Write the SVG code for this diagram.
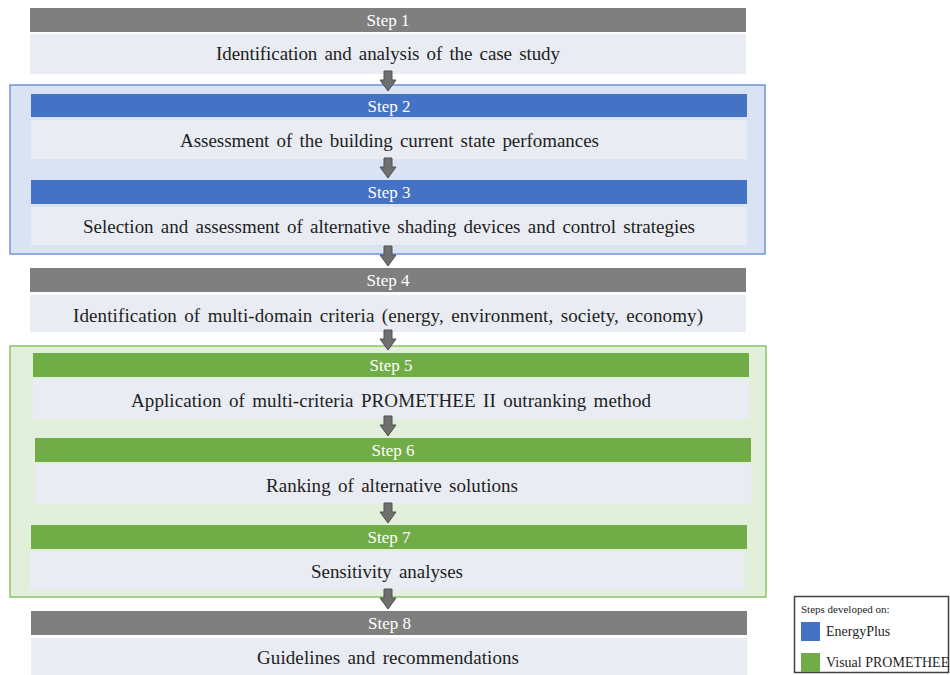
<svg xmlns="http://www.w3.org/2000/svg" width="950" height="675" viewBox="0 0 950 675">
  <style>
    .bar-grey { fill: #7f7f7f; }
    .bar-blue { fill: #4472c4; }
    .bar-green { fill: #70ad47; }
    .box { fill: #e9ecf2; }
    text { font-family: 'Liberation Serif', 'Times New Roman', serif; }
    .step { font-size: 17px; fill: #ffffff; text-anchor: middle; }
    .desc { font-size: 19px; fill: #1e1e1e; text-anchor: middle; word-spacing: 2.5px; }
    .legend { font-size: 14px; fill: #1e1e1e; }
    .legend-title { font-size: 11px; fill: #1e1e1e; }
    .arrow { fill: #6f6f6f; stroke: #505050; stroke-width: 1; }
  </style>
  <defs>
    <!-- block down-arrow, tip at (0,0) -->
    <path id="down" d="M-4,-20 L4,-20 L4,-11 L8,-11 L0,0 L-8,-11 L-4,-11 Z"/>
  </defs>

  <rect width="950" height="675" fill="#ffffff"/>

  <!-- tool groupings -->
  <g id="frame-energyplus">
    <rect x="10" y="85" width="755" height="169" fill="#dae3f3" stroke="#6f95d8" stroke-width="1.5"/>
  </g>
  <g id="frame-promethee">
    <rect x="10" y="346" width="756" height="251" fill="#e2efda" stroke="#8dc46b" stroke-width="1.5"/>
  </g>

  <g id="step1">
    <rect class="bar-grey" x="30" y="8" width="716" height="24"/>
    <text class="step" x="388" y="26">Step 1</text>
    <rect class="box" x="30" y="34" width="716" height="40"/>
    <text class="desc" x="388" y="60" textLength="344" lengthAdjust="spacing">Identification and analysis of the case study</text>
  </g>
  <g id="step2">
    <rect class="bar-blue" x="31" y="94" width="716" height="23"/>
    <text class="step" x="389" y="112">Step 2</text>
    <rect class="box" x="31" y="120" width="716" height="39"/>
    <text class="desc" x="389.5" y="147" textLength="419" lengthAdjust="spacing">Assessment of the building current state perfomances</text>
  </g>
  <g id="step3">
    <rect class="bar-blue" x="31" y="180" width="716" height="24"/>
    <text class="step" x="389" y="198">Step 3</text>
    <rect class="box" x="31" y="207" width="716" height="38"/>
    <text class="desc" x="389" y="233" textLength="612" lengthAdjust="spacing">Selection and assessment of alternative shading devices and control strategies</text>
  </g>
  <g id="step4">
    <rect class="bar-grey" x="30" y="268" width="716" height="24"/>
    <text class="step" x="388" y="286">Step 4</text>
    <rect class="box" x="30" y="295" width="716" height="37"/>
    <text class="desc" x="388" y="322" textLength="630" lengthAdjust="spacing">Identification of multi-domain criteria (energy, environment, society, economy)</text>
  </g>
  <g id="step5">
    <rect class="bar-green" x="33" y="353" width="716" height="24"/>
    <text class="step" x="391" y="371">Step 5</text>
    <rect class="box" x="33" y="379" width="716" height="40"/>
    <text class="desc" x="391" y="407" textLength="520" lengthAdjust="spacing">Application of multi-criteria PROMETHEE II outranking method</text>
  </g>
  <g id="step6">
    <rect class="bar-green" x="35" y="438" width="716" height="24"/>
    <text class="step" x="393" y="456">Step 6</text>
    <rect class="box" x="35" y="464" width="716" height="40"/>
    <text class="desc" x="392" y="492" textLength="252" lengthAdjust="spacing">Ranking of alternative solutions</text>
  </g>
  <g id="step7">
    <rect class="bar-green" x="31" y="525" width="716" height="24"/>
    <text class="step" x="389" y="543">Step 7</text>
    <rect class="box" x="30" y="551" width="715" height="39"/>
    <text class="desc" x="387" y="578" textLength="152" lengthAdjust="spacing">Sensitivity analyses</text>
  </g>
  <g id="step8">
    <rect class="bar-grey" x="31" y="611" width="716" height="24"/>
    <text class="step" x="389.5" y="629">Step 8</text>
    <rect class="box" x="31" y="638" width="716" height="37"/>
    <text class="desc" x="388" y="664" textLength="262" lengthAdjust="spacing">Guidelines and recommendations</text>
  </g>

  <g id="connectors">
    <use href="#down" class="arrow" transform="translate(388,91)"/>
    <use href="#down" class="arrow" transform="translate(388,178)"/>
    <use href="#down" class="arrow" transform="translate(388,266)"/>
    <use href="#down" class="arrow" transform="translate(388,350)"/>
    <use href="#down" class="arrow" transform="translate(388,436)"/>
    <use href="#down" class="arrow" transform="translate(388,523)"/>
    <use href="#down" class="arrow" transform="translate(388,609)"/>
  </g>

  <g id="legend">
    <rect x="794.5" y="596.5" width="154" height="76" fill="#ffffff" stroke="#404040" stroke-width="1.5"/>
    <text class="legend-title" x="801" y="613">Steps developed on:</text>
    <rect x="801" y="622" width="19" height="19" fill="#4472c4"/>
    <text class="legend" x="826" y="636">EnergyPlus</text>
    <rect x="801" y="653" width="19" height="19" fill="#70ad47"/>
    <text class="legend" x="826" y="667">Visual PROMETHEE</text>
  </g>
</svg>
